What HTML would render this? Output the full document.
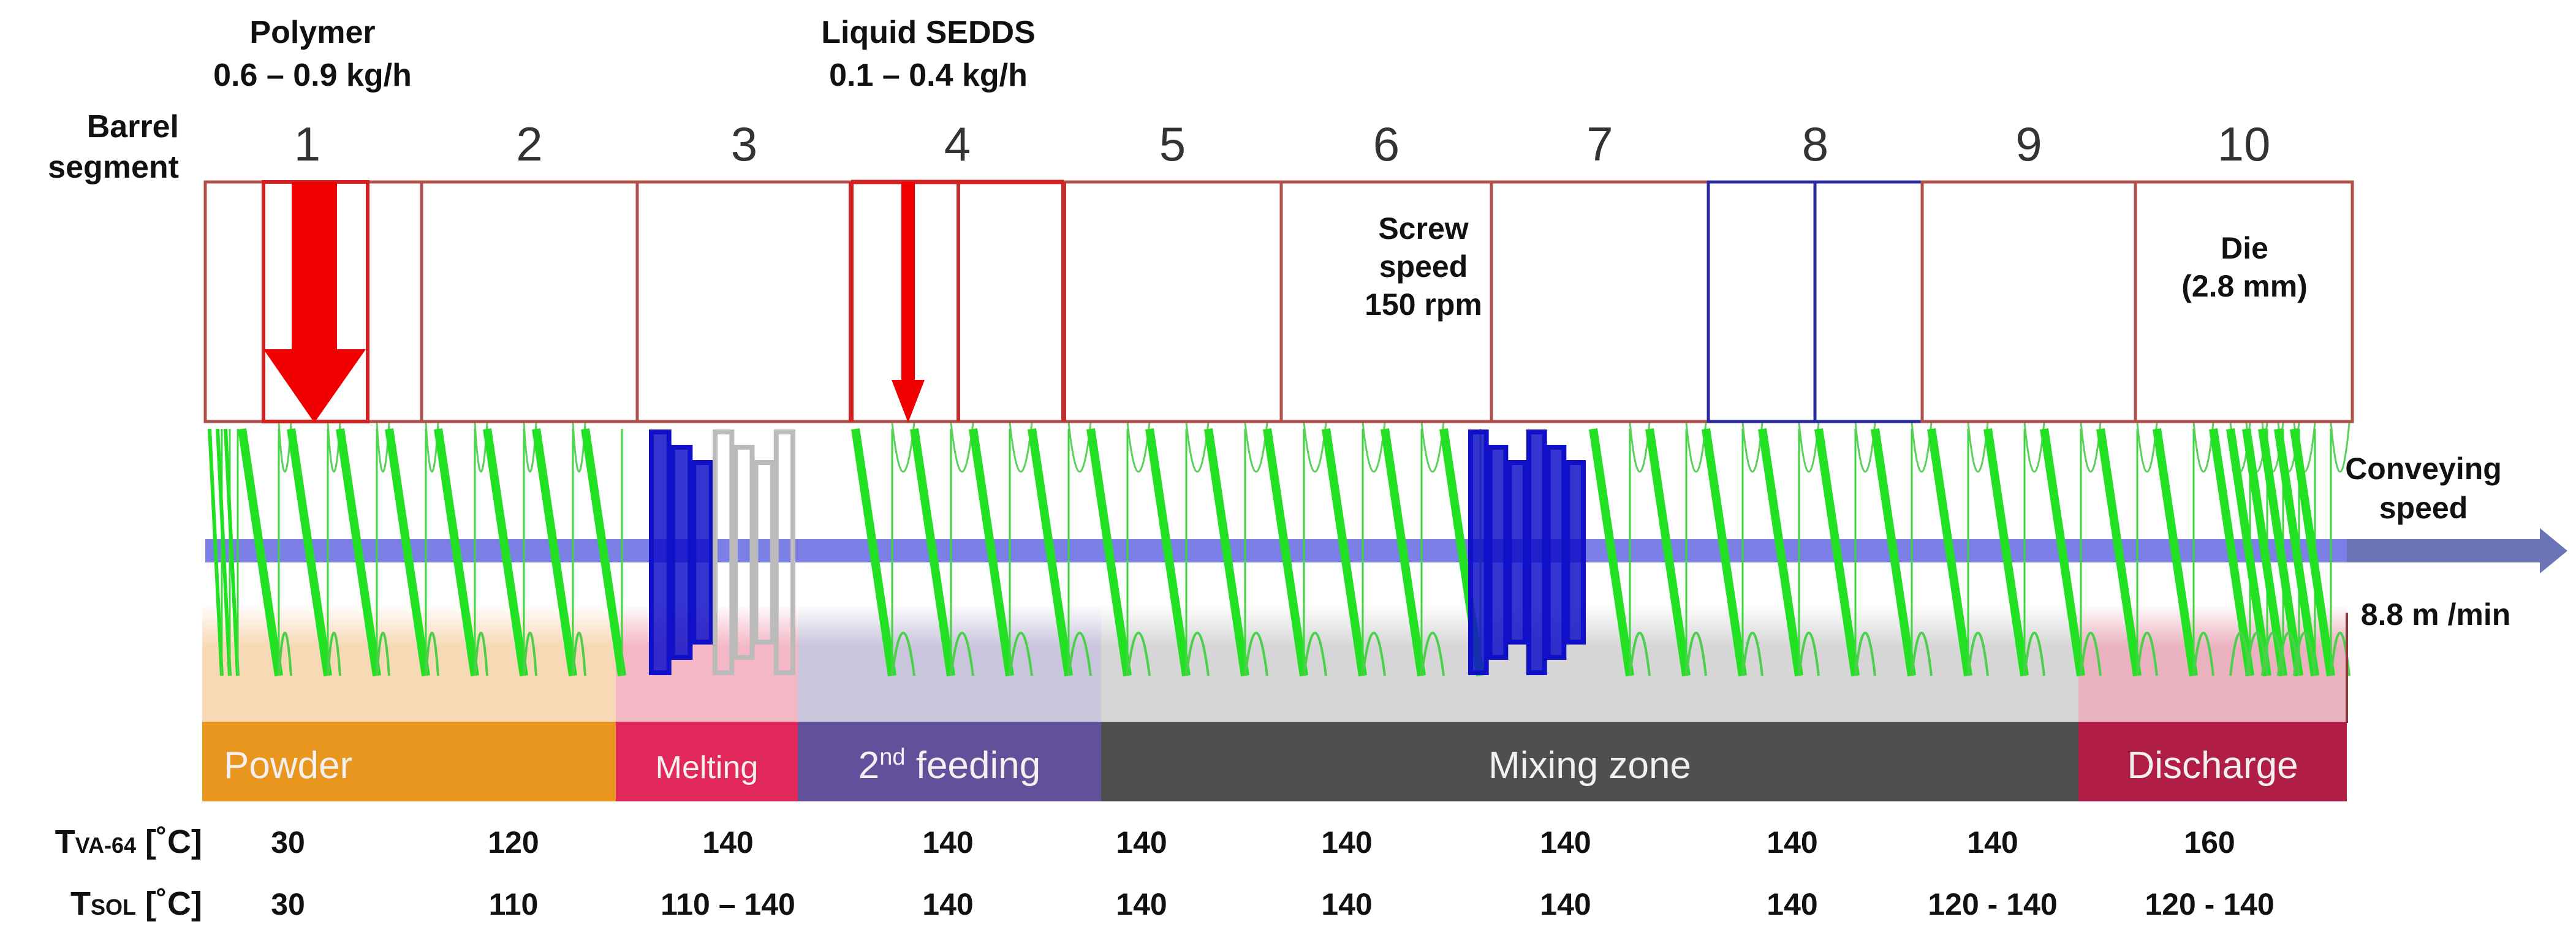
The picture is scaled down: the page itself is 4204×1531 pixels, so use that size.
<!DOCTYPE html>
<html><head><meta charset="utf-8"><style>
html,body{margin:0;padding:0;background:#fff;}
body{width:4204px;height:1531px;overflow:hidden;font-family:"Liberation Sans",sans-serif;}
svg{display:block}
.b{font-weight:bold;fill:#111}
</style></head><body>
<svg id="fig" width="4204" height="1531" viewBox="0 0 4204 1531" xmlns="http://www.w3.org/2000/svg">
<defs>
<linearGradient id="fade" x1="0" y1="0" x2="0" y2="1"><stop offset="0" stop-color="#fff" stop-opacity="1"/><stop offset="1" stop-color="#fff" stop-opacity="0"/></linearGradient>
</defs>
<g id="zones-light"></g>
<rect x="335" y="880" width="3810" height="38" fill="#7b7fe6"/>
<rect x="3830" y="880" width="320" height="38" fill="#6c74b8"/>
<polygon points="4145,862 4190,899 4145,936" fill="#6c74b8"/>
<g id="screw"></g>
<g id="barrel"></g>
<g id="zones"></g>
<g id="temps"></g>

<text class="b" x="510" y="70" font-size="52" text-anchor="middle">Polymer</text>
<text class="b" x="510" y="140" font-size="52" text-anchor="middle">0.6 – 0.9 kg/h</text>
<text class="b" x="1515" y="70" font-size="52" text-anchor="middle">Liquid SEDDS</text>
<text class="b" x="1515" y="140" font-size="52" text-anchor="middle">0.1 – 0.4 kg/h</text>
<text class="b" x="292" y="224" font-size="52" text-anchor="end">Barrel</text>
<text class="b" x="292" y="290" font-size="52" text-anchor="end">segment</text>

<text class="b" x="2323" y="390" font-size="50" text-anchor="middle">Screw</text>
<text class="b" x="2323" y="452" font-size="50" text-anchor="middle">speed</text>
<text class="b" x="2323" y="514" font-size="50" text-anchor="middle">150 rpm</text>
<text class="b" x="3663" y="422" font-size="50" text-anchor="middle">Die</text>
<text class="b" x="3663" y="484" font-size="50" text-anchor="middle">(2.8 mm)</text>

<text class="b" x="3955" y="782" font-size="50" text-anchor="middle">Conveying</text>
<text class="b" x="3955" y="846" font-size="50" text-anchor="middle">speed</text>
<text class="b" x="3975" y="1020" font-size="50" text-anchor="middle">8.8 m /min</text>
</svg>
<script>
const segLabels=["1","2","3","4","5","6","7","8","9","10"];
const segEdges=[335,688,1040,1389,1736,2091,2434,2788,3137,3485,3839];
const zoneNames=["Powder","Melting","2nd feeding","Mixing zone","Discharge"];
const zoneEdges=[330,1005,1302,1797,3392,3830];
const zoneColors=["#e8961e","#e0285a","#63509a","#4f4f4f","#b01e45"];
const zoneLight=["#f8d9b6","#f4b7c5","#c9c5dc","#d6d6d6","#eab2bf"];
const tVA=["30","120","140","140","140","140","140","140","140","160"];
const tSOL=["30","110","110 – 140","140","140","140","140","140","120 - 140","120 - 140"];
const tCols=[470,838,1188,1547,1863,2198,2555,2925,3252,3606];
const NS="http://www.w3.org/2000/svg";
function mk(p,tag,a){const e=document.createElementNS(NS,tag);for(const k in a)e.setAttribute(k,a[k]);p.appendChild(e);return e;}
const barrel=document.getElementById('barrel');
const bTop=297,bBot=688;
for(let i=0;i<segLabels.length;i++){
 const x0=segEdges[i],x1=segEdges[i+1];
 const col=(i===7)?"#2a2aa0":"#b0504a";
 const r=mk(barrel,'rect',{x:x0,y:bTop,width:x1-x0,height:bBot-bTop,fill:'none',stroke:col,'stroke-width':5});
 
 
 const t=mk(barrel,'text',{x:(x0+x1)/2+(i===0?-10:0),y:262,'font-size':78,'text-anchor':'middle',fill:'#333'});
 t.textContent=segLabels[i];
 
 
}
mk(barrel,'rect',{x:430,y:bTop,width:170,height:bBot-bTop,fill:'none',stroke:'#d42020','stroke-width':6});
mk(barrel,'line',{x1:1389,y1:bTop,x2:1389,y2:bBot,stroke:'#d42020','stroke-width':8});
mk(barrel,'line',{x1:1564,y1:bTop,x2:1564,y2:bBot,stroke:'#c03030','stroke-width':6});
mk(barrel,'line',{x1:1736,y1:bTop,x2:1736,y2:bBot,stroke:'#c03030','stroke-width':8});
mk(barrel,'line',{x1:1389,y1:bTop,x2:1736,y2:bTop,stroke:'#d42020','stroke-width':7});
mk(barrel,'line',{x1:2962,y1:bTop,x2:2962,y2:bBot,stroke:'#2a2aa0','stroke-width':5});
const a1=mk(barrel,'polygon',{points:'476,297 550,297 550,570 597,570 513,690 430,570 476,570',fill:'#f00000'});


const a2=mk(barrel,'polygon',{points:'1471,297 1493,297 1493,620 1509,620 1482,690 1455,620 1471,620',fill:'#f00000'});


const zl=document.getElementById('zones-light'),zg=document.getElementById('zones');
for(let i=0;i<zoneNames.length;i++){
 const x0=zoneEdges[i],x1=zoneEdges[i+1];
 mk(zl,'rect',{x:x0,y:990,width:x1-x0,height:190,fill:zoneLight[i]});
 const r=mk(zg,'rect',{x:x0,y:1178,width:x1-x0,height:130,fill:zoneColors[i]});
 
 
 const t=mk(zg,'text',{x:i===0?365:(x0+x1)/2,y:1270,'font-size':i===1?52:62,'text-anchor':i===0?'start':'middle',fill:'#f4f0f0'});
 if(i===2){t.innerHTML='2<tspan font-size="38" dy="-22">nd</tspan><tspan dy="22"> feeding</tspan>';}
 else t.textContent=zoneNames[i];
 
 
}
mk(zl,'rect',{x:330,y:985,width:3500,height:70,fill:'url(#fade)'});
const sc=document.getElementById('screw');
const st=700,sb=1103;
const knead=[[1063,1167,'#1010c8'],[1167,1300,'#bbbbbb'],[2400,2590,'#1010c8']];
function inKnead(x){return knead.some(k=>x>k[0]-40&&x<k[1]+10);}
let flights=[];
for(let x=342;x<380;x+=13)flights.push([x,0.2]);
for(let x=395;x<1020;x+=80)flights.push([x,1]);
for(let x=1300;x<2380;x+=96)flights.push([x,1]);
for(let x=2600;x<3640;x+=92)flights.push([x,1]);
for(let x=3640;x<3770;x+=26)flights.push([x,0.8]);
flights=flights.filter(f=>!inKnead(f[0]));
flights.forEach((f,i)=>{
 const x=f[0],dx=f[1]>0.5?60:20;
 mk(sc,'line',{x1:x,y1:st,x2:x+dx,y2:sb,stroke:'#22e022','stroke-width':f[1]>0.5?14:6});
 mk(sc,'line',{x1:x+dx,y1:st,x2:x+dx,y2:sb,stroke:'#3ed83e','stroke-width':3});
 const nx=(flights[i+1]||[x+90])[0];
 if(nx-x<150&&f[1]>0.5){
  mk(sc,'path',{d:`M${x+dx} ${st-10} Q${(x+dx+nx)/2} ${st+150} ${nx} ${st-10}`,fill:'none',stroke:'#5cd05c','stroke-width':3});
  mk(sc,'path',{d:`M${x+dx} ${sb} Q${(x+dx+nx)/2} ${sb-140} ${nx} ${sb}`,fill:'none',stroke:'#4cd04c','stroke-width':4});
 }
});
knead.forEach(k=>{
 const n=Math.round((k[1]-k[0])/30);
 for(let j=0;j<n;j++){
  const x=k[0]+j*(k[1]-k[0])/n;
  const yo=(j%3)*25;
  mk(sc,'rect',{x:x,y:st+yo+5,width:(k[1]-k[0])/n-6,height:sb-st-2*yo-10,fill:k[2]==='#bbbbbb'?'none':k[2],'fill-opacity':0.85,stroke:k[2],'stroke-width':8});
 }
});
mk(sc,'line',{x1:3830,y1:1000,x2:3830,y2:1180,stroke:'#8a3a3a','stroke-width':4});
const tg=document.getElementById('temps');
let l1=mk(tg,'text',{x:330,y:1392,'font-size':54,'text-anchor':'end','font-weight':'bold',fill:'#111'});
l1.innerHTML='T<tspan font-size="36">VA-64</tspan> [˚C]';


let l2=mk(tg,'text',{x:330,y:1493,'font-size':54,'text-anchor':'end','font-weight':'bold',fill:'#111'});
l2.innerHTML='T<tspan font-size="36">SOL</tspan> [˚C]';


tCols.forEach((x,i)=>{
 const a=mk(tg,'text',{x:x,y:1392,'font-size':50,'text-anchor':'middle','font-weight':'bold',fill:'#111'});
 a.textContent=tVA[i];
 
 
 const b=mk(tg,'text',{x:x,y:1493,'font-size':50,'text-anchor':'middle','font-weight':'bold',fill:'#111'});
 b.textContent=tSOL[i];
 
 
});
</script>
</body></html>
